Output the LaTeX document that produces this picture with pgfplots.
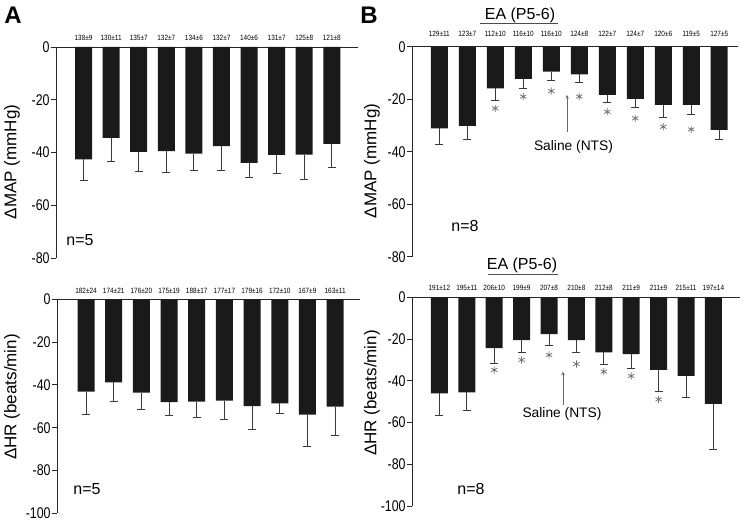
\documentclass[border=0pt]{standalone}
\usepackage{fontspec}
\setmainfont{Liberation Sans}
\usepackage{pgfplots}
\pgfplotsset{compat=1.18}
\usepackage{pgfplotstable}

\definecolor{barc}{HTML}{1A1A1A}
\definecolor{errc}{HTML}{3A3A3A}
\definecolor{starc}{HTML}{707070}
\definecolor{axc}{HTML}{262626}

\pgfplotstableread{
x y e
0 -42.6 8.0
1 -34.5 8.8
2 -39.8 7.2
3 -39.5 7.9
4 -40.4 6.4
5 -37.6 9.1
6 -43.9 5.6
7 -40.9 7.0
8 -40.8 9.5
9 -36.7 9.0
}\mapA

\pgfplotstableread{
x y e
0 -43.2 10.4
1 -38.8 9.0
2 -43.6 7.7
3 -48.1 6.0
4 -47.8 7.3
5 -47.4 8.7
6 -49.9 10.7
7 -48.6 4.7
8 -53.9 15.0
9 -50.2 13.5
}\hrA

\pgfplotstableread{
x y e
0 -31.1 6.0
1 -30.2 5.3
2 -15.9 4.4
3 -12.3 3.6
4 -9.5 3.2
5 -10.5 3.1
6 -18.4 2.8
7 -19.9 3.3
8 -22.2 4.7
9 -22.2 3.8
10 -31.7 3.8
}\mapB

\pgfplotstableread{
x y e
0 -46.0 10.7
1 -45.5 8.8
2 -24.4 7.2
3 -20.5 6.0
4 -17.6 5.3
5 -20.5 6.0
6 -26.4 5.6
7 -27.2 6.8
8 -34.8 10.1
9 -37.7 10.4
10 -51.1 21.6
}\hrB

\pgfplotsset{
  panel/.style={
    scale only axis, clip=false, anchor=south west,
    axis x line*=top, axis y line*=left,
    xtick=\empty, tick align=outside, major tick length=5pt,
    axis line style={line width=0.9pt, axc},
    y tick style={line width=0.9pt, axc},
    yticklabel style={font=\fontsize{15.5}{16}\selectfont, xscale=0.8, inner sep=1.5pt},
    /pgf/number format/assume math mode=true,
  },
  barplot/.style={ybar, bar width=17pt, fill=barc, draw=none,
    error bars/.cd, y dir=minus, y explicit,
    error bar style={line width=0.9pt, errc},
    error mark=-,
    error mark options={rotate=90, mark size=4pt, line width=0.9pt, errc}},
  starplot/.style={only marks, mark=asterisk, mark size=3.6pt, starc, mark options={line width=0.75pt}},
}
\tikzset{vlab/.style={font=\fontsize{7.6}{8}\selectfont, xscale=0.85, anchor=center, inner sep=0pt}}

\begin{document}
\begin{tikzpicture}[x=1pt,y=1pt]
\path[use as bounding box] (0,0) rectangle (748,522);

% ---- A top
\begin{axis}[panel, at={(56pt,264pt)}, width=302pt, height=211pt,
  xmin=-1, xmax=9.95, ymin=-80, ymax=0, ytick={-80,-60,-40,-20,0}]
\addplot[barplot] table[x=x, y=y, y error=e] {\mapA};
\begin{scope}[every node/.style={vlab, yshift=9pt}]
\node at (axis cs:0,0) {138±9};
\node at (axis cs:1,0) {130±11};
\node at (axis cs:2,0) {135±7};
\node at (axis cs:3,0) {132±7};
\node at (axis cs:4,0) {134±6};
\node at (axis cs:5,0) {132±7};
\node at (axis cs:6,0) {140±6};
\node at (axis cs:7,0) {131±7};
\node at (axis cs:8,0) {125±8};
\node at (axis cs:9,0) {121±8};
\end{scope}
\end{axis}

% ---- A bottom
\begin{axis}[panel, at={(57pt,8.7pt)}, width=303pt, height=214pt,
  xmin=-1.05, xmax=9.9, ymin=-100, ymax=0, ytick={-100,-80,-60,-40,-20,0}]
\addplot[barplot] table[x=x, y=y, y error=e] {\hrA};
\begin{scope}[every node/.style={vlab, yshift=8pt}]
\node at (axis cs:0,0) {182±24};
\node at (axis cs:1,0) {174±21};
\node at (axis cs:2,0) {176±20};
\node at (axis cs:3,0) {175±19};
\node at (axis cs:4,0) {188±17};
\node at (axis cs:5,0) {177±17};
\node at (axis cs:6,0) {179±16};
\node at (axis cs:7,0) {172±10};
\node at (axis cs:8,0) {167±9};
\node at (axis cs:9,0) {163±11};
\end{scope}
\end{axis}

% ---- B top
\begin{axis}[panel, at={(412pt,265.3pt)}, width=326pt, height=210pt,
  xmin=-0.975, xmax=10.67, ymin=-80, ymax=0, ytick={-80,-60,-40,-20,0}]
\addplot[barplot] table[x=x, y=y, y error=e] {\mapB};
\addplot[starplot] coordinates {(2,-23.5) (3,-19.0) (4,-16.9) (5,-19.0) (6,-24.8) (7,-27.3) (8,-30.5) (9,-31.5)};
\begin{scope}[every node/.style={vlab, yshift=12.5pt}]
\node at (axis cs:0,0) {129±11};
\node at (axis cs:1,0) {123±7};
\node at (axis cs:2,0) {112±10};
\node at (axis cs:3,0) {116±10};
\node at (axis cs:4,0) {116±10};
\node at (axis cs:5,0) {124±8};
\node at (axis cs:6,0) {122±7};
\node at (axis cs:7,0) {124±7};
\node at (axis cs:8,0) {120±6};
\node at (axis cs:9,0) {119±5};
\node at (axis cs:10,0) {127±5};
\end{scope}
\end{axis}

% ---- B bottom
\begin{axis}[panel, at={(412pt,16pt)}, width=328pt, height=208.7pt,
  xmin=-1.0, xmax=10.97, ymin=-100, ymax=0, ytick={-100,-80,-60,-40,-20,0}]
\addplot[barplot] table[x=x, y=y, y error=e] {\hrB};
\addplot[starplot] coordinates {(2,-34.8) (3,-30.0) (4,-27.6) (5,-32.0) (6,-35.6) (7,-37.7) (8,-48.9)};
\begin{scope}[every node/.style={vlab, yshift=9pt}]
\node at (axis cs:0,0) {191±12};
\node at (axis cs:1,0) {195±11};
\node at (axis cs:2,0) {206±10};
\node at (axis cs:3,0) {199±9};
\node at (axis cs:4,0) {207±8};
\node at (axis cs:5,0) {210±8};
\node at (axis cs:6,0) {212±8};
\node at (axis cs:7,0) {211±9};
\node at (axis cs:8,0) {211±9};
\node at (axis cs:9,0) {215±11};
\node at (axis cs:10,0) {197±14};
\end{scope}
\end{axis}

% ---- panel letters
\node[font=\bfseries\fontsize{24}{26}\selectfont] at (13,507) {A};
\node[font=\bfseries\fontsize{24}{26}\selectfont] at (369,507) {B};

% ---- y labels
\begin{scope}[every node/.style={font=\fontsize{17}{18}\selectfont, rotate=90, anchor=center, inner sep=0pt}]
\node at (12,360) {ΔMAP (mmHg)};
\node at (12,125) {ΔHR (beats/min)};
\node at (372,361) {ΔMAP (mmHg)};
\node at (372,129) {ΔHR (beats/min)};
\end{scope}

% ---- n labels
\begin{scope}[every node/.style={font=\fontsize{16}{17}\selectfont, anchor=center, inner sep=0pt}]
\node at (80,282) {n=5};
\node at (87,33) {n=5};
\node at (465,296) {n=8};
\node at (471,33) {n=8};
\end{scope}

% ---- EA (P5-6)
\node[font=\fontsize{16}{17}\selectfont, anchor=base] at (520,502) {EA (P5-6)};
\draw[line width=0.8pt, black!70] (480,498.7) -- (558,498.7);
\node[font=\fontsize{16}{17}\selectfont, anchor=base] at (522,252) {EA (P5-6)};
\draw[line width=0.8pt, black!70] (488,248) -- (558,248);

% ---- Saline (NTS)
\node[font=\fontsize{13.8}{15}\selectfont, anchor=center] at (573.5,375.3) {Saline (NTS)};
\draw[line width=0.6pt, black!60, -stealth] (567,390) -- (567,427);
\node[font=\fontsize{13.8}{15}\selectfont, anchor=center] at (562,108) {Saline (NTS)};
\draw[line width=0.6pt, black!60, -stealth] (563,117) -- (563,150.3);
\end{tikzpicture}
\end{document}
